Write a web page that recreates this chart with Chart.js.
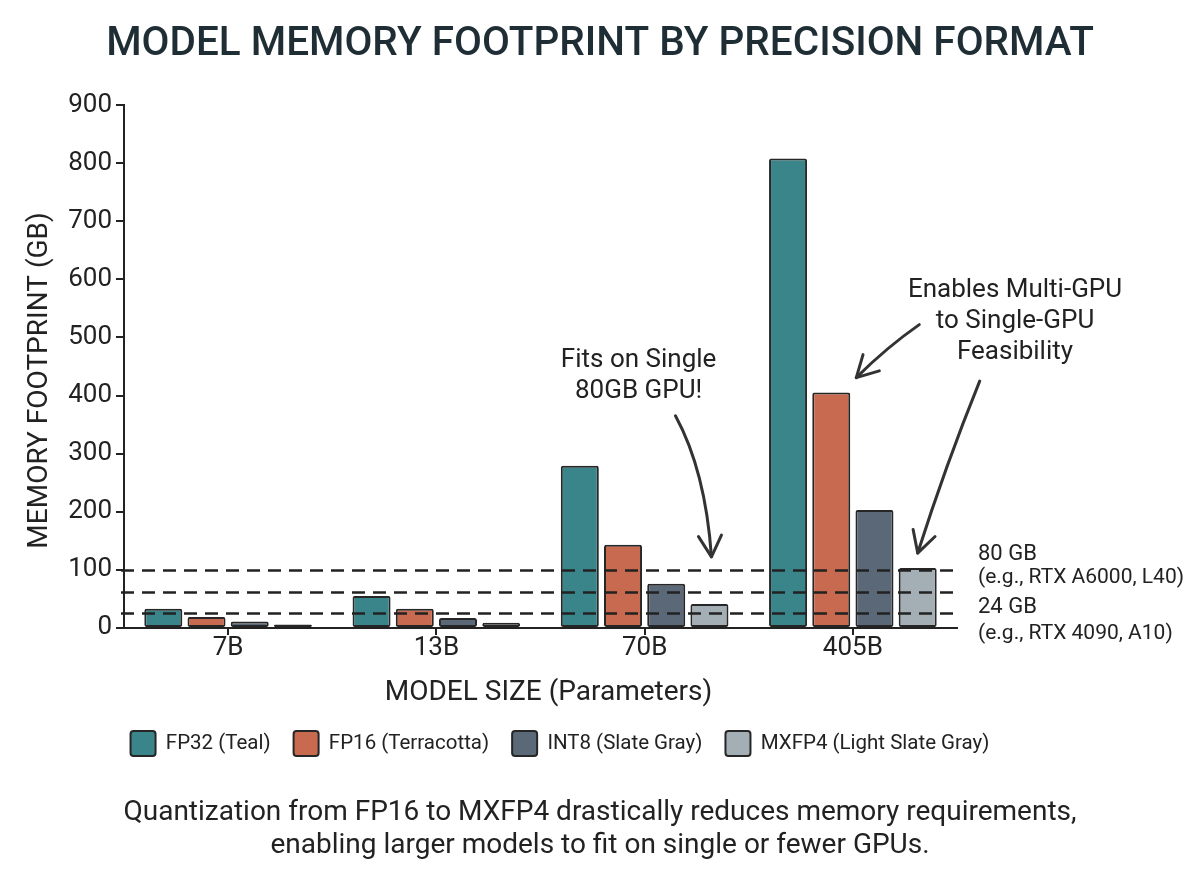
<!DOCTYPE html>
<html>
<head>
<meta charset="utf-8">
<script src="https://cdn.jsdelivr.net/npm/chart.js@4.4.1/dist/chart.umd.min.js"></script>
<style>
  html, body { margin: 0; padding: 0; background: #fff; }
  #wrap { width: 1200px; height: 896px; }
</style>
</head>
<body>
<div id="wrap"><canvas id="memChart" width="1200" height="896"></canvas></div>
<script>
// Values (GB)
const modelSizes = ['7B', '13B', '70B', '405B'];
const fp32Values = [33, 55, 279, 808];
const fp16Values = [19, 33, 143, 405];
const int8Values = [11, 17, 76, 203];
const mxfp4Values = [6, 9, 41, 103];

// Dashed GPU capacity reference lines, as drawn in the picture
const gpuLines = [100, 62, 26];
const gpuLabels = [
    ['80 GB', '(e.g., RTX A6000, L40)'],
    ['24 GB', '(e.g., RTX 4090, A10)']
];

const captionLines = [
    'Quantization from FP16 to MXFP4 drastically reduces memory requirements,',
    'enabling larger models to fit on single or fewer GPUs.'
];

const ink = '#222222';
Chart.defaults.font.family = 'Roboto, "Noto Sans", sans-serif';
Chart.defaults.color = ink;

// Draw an open-headed arrow along a quadratic curve
function drawArrow(ctx, from, ctrl, tip) {
    ctx.save();
    ctx.strokeStyle = '#333333';
    ctx.lineWidth = 3;
    ctx.lineCap = 'round';
    ctx.lineJoin = 'round';
    ctx.beginPath();
    ctx.moveTo(from.x, from.y);
    ctx.quadraticCurveTo(ctrl.x, ctrl.y, tip.x, tip.y);
    ctx.stroke();
    const ang = Math.atan2(tip.y - ctrl.y, tip.x - ctrl.x);
    const len = 24;
    ctx.beginPath();
    ctx.moveTo(tip.x - len * Math.cos(ang - 0.5), tip.y - len * Math.sin(ang - 0.5));
    ctx.lineTo(tip.x, tip.y);
    ctx.lineTo(tip.x - len * Math.cos(ang + 0.5), tip.y - len * Math.sin(ang + 0.5));
    ctx.stroke();
    ctx.restore();
}

const overlayPlugin = {
    id: 'overlay',
    afterLayout(chart) {
        // legend sits a little left of the canvas centre in the reference
        chart.legend.left -= 40;
        chart.legend.right -= 40;
    },
    afterDatasetsDraw(chart) {
        const ctx = chart.ctx;
        const area = chart.chartArea;
        const xs = chart.scales.x;
        const ys = chart.scales.y;

        // dashed capacity lines over the bars
        ctx.save();
        ctx.strokeStyle = ink;
        ctx.lineWidth = 2.5;
        ctx.setLineDash([13, 8]);
        gpuLines.forEach(v => {
            const y = Math.round(ys.getPixelForValue(v)) + 0.5;
            ctx.beginPath();
            ctx.moveTo(area.left - 3, y);
            ctx.lineTo(area.right + 1, y);
            ctx.stroke();
        });
        ctx.restore();

        // labels to the right of the lines
        ctx.save();
        ctx.fillStyle = ink;
        ctx.textAlign = 'left';
        ctx.textBaseline = 'middle';
        const lx = area.right + 21;
        const yTop = ys.getPixelForValue(gpuLines[0]);
        const yLow = ys.getPixelForValue(gpuLines[2]);
        ctx.font = '22px Roboto';
        ctx.fillText(gpuLabels[0][0], lx, yTop - 15);
        ctx.fillText(gpuLabels[1][0], lx, yLow - 5);
        ctx.font = '21px Roboto';
        ctx.fillText(gpuLabels[0][1], lx, yTop + 8);
        ctx.fillText(gpuLabels[1][1], lx, yLow + 21);
        ctx.restore();

        // axis titles
        ctx.save();
        ctx.fillStyle = ink;
        ctx.textAlign = 'center';
        ctx.textBaseline = 'middle';
        ctx.font = '28px Roboto';
        ctx.fillText('MODEL SIZE (Parameters)', (area.left + area.right) / 2 + 8, area.bottom + 65);
        ctx.translate(40, (area.top + area.bottom) / 2 + 14);
        ctx.rotate(-Math.PI / 2);
        ctx.font = '28px Roboto';
        ctx.fillText('MEMORY FOOTPRINT (GB)', 0, 0);
        ctx.restore();

        // callout texts
        ctx.save();
        ctx.fillStyle = ink;
        ctx.textAlign = 'center';
        ctx.textBaseline = 'middle';
        ctx.font = '26px Roboto';
        const ax = xs.getPixelForValue(2) - 6;
        const ay = ys.getPixelForValue(460);
        ctx.fillText('Fits on Single', ax, ay);
        ctx.fillText('80GB GPU!', ax, ay + 31);
        const bx = area.right + 58;
        const by = ys.getPixelForValue(581);
        ['Enables Multi-GPU', 'to Single-GPU', 'Feasibility'].forEach((t, i) => {
            ctx.fillText(t, bx, by + i * 31);
        });
        ctx.restore();

        // arrows pointing at bars
        const mx70 = chart.getDatasetMeta(3).data[2];
        const fp405 = chart.getDatasetMeta(1).data[3];
        const mx405 = chart.getDatasetMeta(3).data[3];

        const tipA = { x: mx70.x + 2, y: ys.getPixelForValue(gpuLines[0]) - 13 };
        drawArrow(ctx, { x: tipA.x - 36, y: tipA.y - 141 }, { x: tipA.x - 6, y: tipA.y - 86 }, tipA);

        const tipB = { x: fp405.x + fp405.width / 2 + 6, y: fp405.y - 15 };
        drawArrow(ctx, { x: tipB.x + 63, y: tipB.y - 53 }, { x: tipB.x + 30, y: tipB.y - 30 }, tipB);

        const tipC = { x: mx405.x, y: mx405.y - 15 };
        drawArrow(ctx, { x: tipC.x + 62, y: tipC.y - 172 }, { x: tipC.x + 28, y: tipC.y - 88 }, tipC);
    }
};

const barStyle = {
    borderColor: '#262626',
    borderWidth: 2,
    borderRadius: 2,
    borderSkipped: false,
    categoryPercentage: 0.83,
    barPercentage: 0.88
};

const ctx = document.getElementById('memChart').getContext('2d');
const memChart = new Chart(ctx, {
    type: 'bar',
    data: {
        labels: modelSizes,
        datasets: [
            Object.assign({ label: 'FP32 (Teal)', data: fp32Values, backgroundColor: '#3a8589' }, barStyle),
            Object.assign({ label: 'FP16 (Terracotta)', data: fp16Values, backgroundColor: '#c86a4f' }, barStyle),
            Object.assign({ label: 'INT8 (Slate Gray)', data: int8Values, backgroundColor: '#5b6878' }, barStyle),
            Object.assign({ label: 'MXFP4 (Light Slate Gray)', data: mxfp4Values, backgroundColor: '#a4aeb5' }, barStyle)
        ]
    },
    options: {
        responsive: false,
        animation: false,
        layout: { padding: 0 },
        plugins: {
            title: {
                display: true,
                text: 'MODEL MEMORY FOOTPRINT BY PRECISION FORMAT',
                color: '#1f2e35',
                font: { size: 40.5, weight: '500' },
                padding: { top: 21, bottom: 35.4 }
            },
            subtitle: {
                display: true,
                position: 'bottom',
                text: captionLines,
                color: ink,
                font: { size: 28, weight: 'normal', lineHeight: 1.18 },
                padding: { top: 31, bottom: 33 }
            },
            legend: {
                position: 'bottom',
                labels: {
                    font: { size: 20.5 },
                    color: ink,
                    boxWidth: 25,
                    boxHeight: 25,
                    padding: 23,
                    useBorderRadius: true,
                    borderRadius: 3
                }
            },
            tooltip: { enabled: false }
        },
        scales: {
            x: {
                grid: { display: true, drawOnChartArea: false, offset: false, tickLength: 7, color: ink, lineWidth: 2 },
                border: { display: true, color: ink, width: 2 },
                ticks: { font: { size: 26 }, color: ink, padding: -2 },
                afterFit(scale) { scale.height = 80; }
            },
            y: {
                min: 0,
                max: 900,
                ticks: { stepSize: 100, font: { size: 26 }, color: ink, padding: 4 },
                grid: { display: true, drawOnChartArea: false, tickLength: 8, color: ink, lineWidth: 2 },
                border: { display: true, color: ink, width: 2 },
                afterFit(scale) { scale.width = 124; }
            },
            yRight: {
                type: 'linear',
                position: 'right',
                display: true,
                grid: { display: false },
                border: { display: false },
                ticks: { display: false },
                afterFit(scale) { scale.width = 243; }
            }
        }
    },
    plugins: [overlayPlugin]
});
</script>
</body>
</html>
